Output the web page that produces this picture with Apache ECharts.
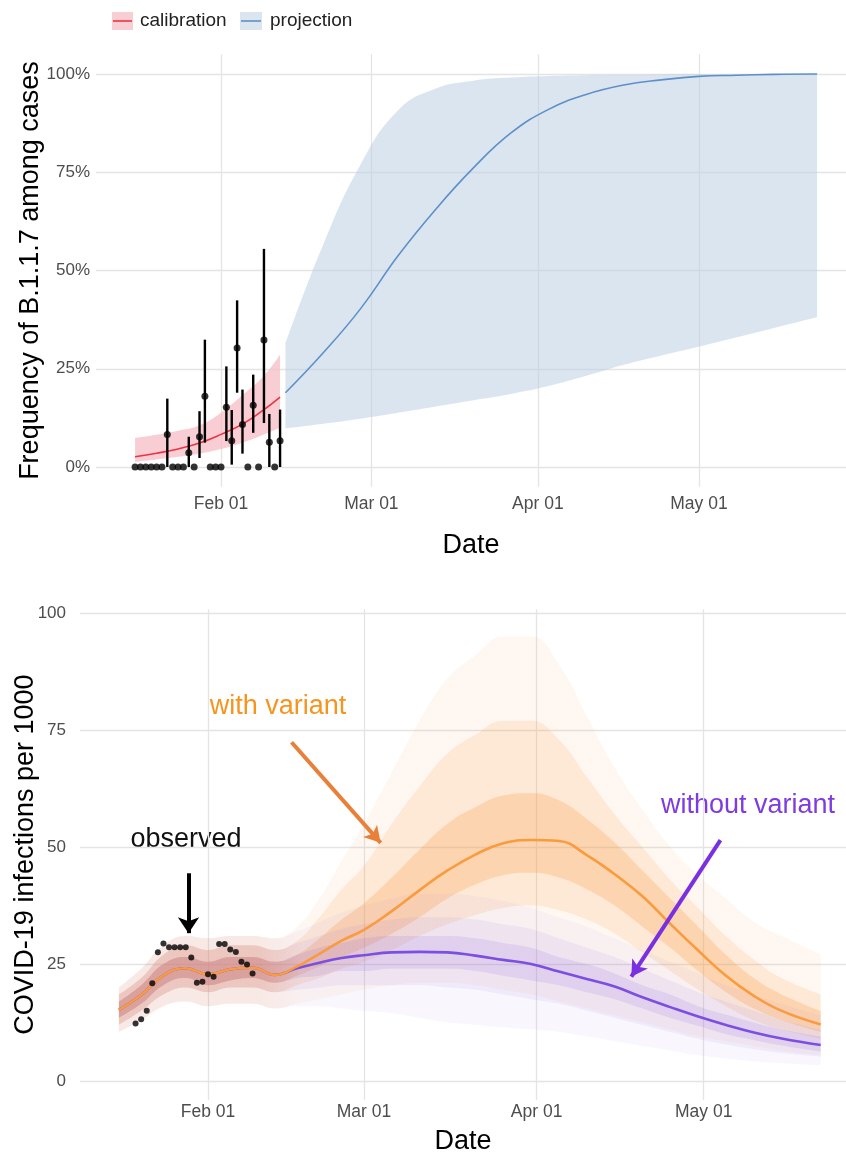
<!DOCTYPE html>
<html><head><meta charset="utf-8">
<script src="https://cdn.jsdelivr.net/npm/echarts@6/dist/echarts.min.js"></script>
<style>html,body{margin:0;padding:0;background:#fff}#c{width:846px;height:1154px}</style>
</head><body><div id="c"></div>
<script>
// ---------- tick labels ----------
const tickDates = ['2021-02-01','2021-03-01','2021-04-01','2021-05-01'];
const tickLabels = ['Feb 01','Mar 01','Apr 01','May 01'];
const pctTicks = [0,25,50,75,100];
const infTicks = [0,25,50,75,100];

// ---------- top panel: observed frequency of B.1.1.7 (%) ----------
const obsDates = ['2021-01-16','2021-01-17','2021-01-18','2021-01-19','2021-01-20','2021-01-21','2021-01-22','2021-01-23','2021-01-24','2021-01-25','2021-01-26','2021-01-27','2021-01-28','2021-01-29','2021-01-30','2021-01-31','2021-02-01','2021-02-02','2021-02-03','2021-02-04','2021-02-05','2021-02-06','2021-02-07','2021-02-08','2021-02-09','2021-02-10','2021-02-11','2021-02-12'];
const obsFreq = [0,0,0,0,0,0,8.3,0,0,0,3.6,0,7.7,18.0,0,0,0,15.2,6.7,30.3,10.8,0,15.7,0,32.3,6.3,0,6.7];
const obsLow  = [0,0,0,0,0,0,0,0,0,0,0,0,2.3,6.2,0,0,0,6.6,0.6,18.9,3.4,0,8.7,0,11.2,0,0,0];
const obsHigh = [0,0,0,0,0,0,17.4,0,0,0,7.7,0,14.2,32.4,0,0,0,25.6,14.5,42.4,19.7,0,23.5,0,55.5,13.5,0,14.6];

// calibration fit
const calDates = ['2021-01-16','2021-01-20','2021-01-24','2021-01-28','2021-02-01','2021-02-05','2021-02-09','2021-02-12'];
const calMid  = [2.6,3.5,4.6,6.1,8.3,10.9,14.6,17.8];
const calLow  = [1.3,1.9,2.6,3.4,4.6,6.2,8.3,10.0];
const calHigh = [7.4,8.2,9.2,10.6,13.8,18.3,23.2,28.6];

// projection
const projDates = ['2021-02-13','2021-02-20','2021-02-27','2021-03-06','2021-03-13','2021-03-20','2021-03-27','2021-04-03','2021-04-10','2021-04-17','2021-04-24','2021-05-01','2021-05-08','2021-05-15','2021-05-23'];
const projMid  = [18.9,29.0,40.3,53.8,65.6,76.1,85.0,91.0,94.8,97.2,98.5,99.4,99.7,99.9,100];
const projLow  = [9.8,11.0,12.3,13.8,15.4,17.0,18.6,20.6,23.2,26.0,28.4,30.6,33.0,35.4,38.1];
const projHigh = [31.4,56.5,77.0,90.8,96.3,98.3,99.1,99.5,99.7,99.8,99.9,100,100,100,100];

// ---------- bottom panel: infections per 1000 ----------
const infDates = ['2021-01-16','2021-01-20','2021-01-24','2021-01-28','2021-02-01','2021-02-05','2021-02-09','2021-02-13','2021-02-17','2021-02-21','2021-02-25','2021-03-01','2021-03-06','2021-03-11','2021-03-16','2021-03-21','2021-03-26','2021-03-31','2021-04-05','2021-04-10','2021-04-15','2021-04-20','2021-04-25','2021-04-30','2021-05-05','2021-05-10','2021-05-15','2021-05-22'];
const withMid    = [15.2,18.4,22.6,24.1,22.8,23.9,24.2,22.7,24.5,27.2,30.0,32.3,36.3,40.8,45.0,48.4,50.8,51.5,51.3,48.3,44.2,39.5,33.6,27.9,22.5,18.2,15.0,12.1];
const withMax    = [20,24,29,31,30.5,31,31,30.5,33,39,47,55,66,77,86,91,95,95,89,78,67,58,50,44,39,34,31,27];
const withMin    = [10.5,13,16,17,16,16.5,16.5,15.5,16.5,17.5,18.5,19.5,20.5,21,21,20.5,19.5,18.5,17,15.5,14,12.5,11,9.5,8.5,7.5,6.5,5.5];
const withQ90    = [18.5,22,27,29,28,29,29,28,30,35,41,46,55,63,70,74,77,77,73,65,57,50,43,37,31,26,22,18.5];
const withQ10    = [12,15,18.5,20,19,20,20,19,20.5,22,24,25.5,28,31,33.5,35.5,37,37.5,36.5,34.5,31.5,27.5,23.5,19.5,16,13,11,9];
const withQ75    = [17,20.5,25,26.5,25.5,26.5,26.5,25.5,27,30.5,34.5,38,43.5,49.5,55,58.5,61,61.5,60,56,51,45,39,33,27,22,18.5,15];
const withQ25    = [13.5,16.5,20.5,22,20.5,21.5,22,21,22.5,24.5,26.5,28.5,31.5,35,39,42,44,44.5,43.5,41,37.5,33,28.5,23.5,19,15.5,13,10.5];

const withoutMid = [15.2,18.4,22.6,24.1,22.8,23.9,24.2,22.7,24.1,25.3,26.3,26.9,27.5,27.6,27.5,26.8,25.9,25.0,23.4,21.8,20.2,17.9,15.8,13.8,12.0,10.4,9.1,7.7];
const withoutMax = [20,24,29,31,30.5,31,31,30.5,32,34,36,37.5,39,40,40,39.5,38.5,37,35,33,30.5,28,25.5,23,20.5,18.5,16.5,14];
const withoutMin = [10.5,13,16,17,16,16.5,16.5,15.5,16,16,15.5,15,14.5,13.5,12.5,12,11.5,11,10.5,9.5,8.5,7.5,6.5,5.5,4.8,4.2,3.8,3.3];
const withoutQ90 = [18.5,22,27,29,28,29,29,28,29.5,31,32.5,33.5,34.5,35,35,34.5,33.5,32.5,30.5,28.5,26.5,24,21.5,19,17,15,13,11];
const withoutQ10 = [12,15,18.5,20,19,20,20,19,19.5,20,20.5,20.5,20.5,20.5,20,19.5,18.5,17.5,16.5,15,13.5,12,10.5,9,7.8,6.8,6,5.2];
const withoutQ75 = [17,20.5,25,26.5,25.5,26.5,26.5,25.5,27,28.5,29.5,30.5,31,31,31,30.5,29.5,28.5,26.5,25,23,20.5,18.5,16,14.2,12.5,11,9.5];
const withoutQ25 = [13.5,16.5,20.5,22,20.5,21.5,22,21,22,22.5,23.5,23.5,24,24,24,23.5,22.5,21.5,20.5,19,17.5,15.5,13.5,11.8,10,8.8,7.6,6.3];

// observed infections
const casesDates = ['2021-01-19','2021-01-20','2021-01-21','2021-01-22','2021-01-23','2021-01-24','2021-01-25','2021-01-26','2021-01-27','2021-01-28','2021-01-29','2021-01-30','2021-01-31','2021-02-01','2021-02-02','2021-02-03','2021-02-04','2021-02-05','2021-02-06','2021-02-07','2021-02-08','2021-02-09'];
const casesObs = [12.3,13.2,15.0,20.9,27.5,29.4,28.6,28.6,28.6,28.6,26.4,21.0,21.2,22.8,22.3,29.3,29.3,28.1,27.6,25.5,24.9,23.0];

// annotation arrows [date, value]
const arrowWith    = [['2021-02-16', 72.4], ['2021-03-04', 50.9]];
const arrowWithout = [['2021-05-04', 51.5], ['2021-04-18', 22.3]];
const arrowObs     = [['2021-01-28T12', 44.4], ['2021-01-28T12', 31.6]];

// ---------- helpers ----------
const DAY = 86400000;
function ts(s) {
  const parts = s.split('T');
  const [y, m, d] = parts[0].split('-').map(Number);
  const h = parts[1] ? Number(parts[1]) : 0;
  return new Date(y, m - 1, d, h).getTime();
}
const pairs = (dates, vals) => dates.map((d, i) => [ts(d), vals[i]]);
const diffs = (dates, lo, hi) => dates.map((d, i) => [ts(d), +(hi[i] - lo[i]).toFixed(4)]);
const tickTs = tickDates.map(ts);
const FONT = "'Liberation Sans', Arial, Helvetica, sans-serif";
const GRID = '#E4E4E4';
const FEB1 = ts('2021-02-01');
const SMOOTH = 0.45;

function band(name, dates, lo, hi, color, gi) {
  const common = { xAxisIndex: gi, yAxisIndex: gi, stack: name, symbol: 'none', smooth: SMOOTH,
    lineStyle: { opacity: 0, width: 0 }, silent: true, z: 2 };
  return [
    Object.assign({ type: 'line', name: name + '_lo', data: pairs(dates, lo) }, common),
    Object.assign({ type: 'line', name: name + '_hi', data: diffs(dates, lo, hi), areaStyle: { color: color, opacity: 1 } }, common)
  ];
}
// horizontal fade: stronger where both scenarios overlap (calibration period)
function fade(rgb, a1, a2, stop) {
  return new echarts.graphic.LinearGradient(0, 0, 1, 0, [
    { offset: 0, color: 'rgba(' + rgb + ',' + a1 + ')' },
    { offset: stop, color: 'rgba(' + rgb + ',' + a1 + ')' },
    { offset: stop + 0.06, color: 'rgba(' + rgb + ',' + a2 + ')' },
    { offset: 1, color: 'rgba(' + rgb + ',' + a2 + ')' }
  ]);
}

function xDataAxis(gi, minDays, maxDays) {
  return { type: 'time', gridIndex: gi, min: FEB1 + minDays * DAY, max: FEB1 + maxDays * DAY, show: false,
    position: 'top', axisLine: { show: false, onZero: false }, splitLine: { show: false } };
}
function xShowAxis(gi, minDays, maxDays, margin, nameGap) {
  return {
    type: 'value', gridIndex: gi, min: FEB1 + minDays * DAY, max: FEB1 + maxDays * DAY, position: 'bottom',
    axisLine: { show: false, onZero: false }, axisTick: { show: false, customValues: tickTs },
    axisLabel: { customValues: tickTs, margin: margin, color: '#4D4D4D', fontSize: 17.5, fontFamily: FONT,
      formatter: v => { const k = tickTs.indexOf(v); return k >= 0 ? tickLabels[k] : ''; } },
    splitLine: { show: true, lineStyle: { color: GRID, width: 1.3 } },
    name: 'Date', nameLocation: 'middle', nameGap: nameGap, nameMoveOverlap: false,
    nameTextStyle: { color: '#000', fontSize: 27, fontFamily: FONT }
  };
}
function yAxisCfg(gi, min, max, ticks, fmt, name, nameGap, margin) {
  return {
    type: 'value', gridIndex: gi, min: min, max: max,
    axisLine: { show: false, onZero: false }, axisTick: { show: false, customValues: ticks },
    axisLabel: { customValues: ticks, formatter: fmt, color: '#4D4D4D', fontSize: 17, fontFamily: FONT, margin: margin },
    splitLine: { show: true, lineStyle: { color: GRID, width: 1.3 } },
    name: name, nameLocation: 'middle', nameGap: nameGap, nameRotate: 90, nameMoveOverlap: false,
    nameTextStyle: { color: '#000', fontSize: 27, fontFamily: FONT }
  };
}

const OR = '249,150,60';
const PU = '140,100,225';
const arrowLine = (pts) => [[{ coord: [ts(pts[0][0]), pts[0][1]] }, { coord: [ts(pts[1][0]), pts[1][1]] }]];
const STOP = 0.2;

const series = [
  // top panel
  ...band('cal', calDates, calLow, calHigh, 'rgba(246,190,198,0.75)', 0),
  ...band('proj', projDates, projLow, projHigh, 'rgba(190,208,228,0.55)', 0),
  { type: 'line', xAxisIndex: 0, yAxisIndex: 0, data: pairs(calDates, calMid), smooth: SMOOTH, symbol: 'none',
    lineStyle: { color: '#EE3340', width: 1.6 }, silent: true, z: 3 },
  { type: 'line', xAxisIndex: 0, yAxisIndex: 0, data: pairs(projDates, projMid), smooth: SMOOTH, symbol: 'none',
    lineStyle: { color: '#5E90C8', width: 1.6 }, silent: true, z: 3 },
  { type: 'custom', xAxisIndex: 0, yAxisIndex: 0, silent: true, z: 4,
    data: obsDates.map((d, i) => [ts(d), obsLow[i], obsHigh[i]]),
    encode: { x: 0, y: [1, 2] },
    renderItem: (params, api) => {
      const a = api.coord([api.value(0), api.value(1)]);
      const b = api.coord([api.value(0), api.value(2)]);
      return { type: 'line', shape: { x1: a[0], y1: a[1], x2: b[0], y2: b[1] }, style: { stroke: '#000', lineWidth: 2.4 } };
    } },
  { type: 'scatter', xAxisIndex: 0, yAxisIndex: 0, data: pairs(obsDates, obsFreq), symbolSize: 7,
    itemStyle: { color: '#000' }, silent: true, z: 5 },

  // bottom panel
  ...band('wOut', infDates, withMin, withMax, fade(OR, 0.13, 0.07, STOP), 1),
  ...band('wMid', infDates, withQ10, withQ90, fade(OR, 0.26, 0.15, STOP), 1),
  ...band('wIn', infDates, withQ25, withQ75, fade(OR, 0.45, 0.25, STOP), 1),
  ...band('nOut', infDates, withoutMin, withoutMax, fade(PU, 0.06, 0.05, STOP), 1),
  ...band('nMid', infDates, withoutQ10, withoutQ90, fade(PU, 0.10, 0.09, STOP), 1),
  ...band('nIn', infDates, withoutQ25, withoutQ75, fade(PU, 0.17, 0.15, STOP), 1),
  { type: 'line', xAxisIndex: 1, yAxisIndex: 1, data: pairs(infDates, withoutMid), smooth: SMOOTH, symbol: 'none',
    lineStyle: { color: '#7C4FE0', width: 2.6 }, silent: true, z: 3,
    markLine: { silent: true, symbol: ['none', 'arrow'], symbolSize: [14, 16], label: { show: false },
      lineStyle: { color: '#7A2FE0', width: 4, type: 'solid' }, data: arrowLine(arrowWithout) } },
  { type: 'line', xAxisIndex: 1, yAxisIndex: 1, data: pairs(infDates, withMid), smooth: SMOOTH, symbol: 'none',
    lineStyle: { color: '#F99B3E', width: 2.6 }, silent: true, z: 3,
    markLine: { silent: true, symbol: ['none', 'arrow'], symbolSize: [14, 16], label: { show: false },
      lineStyle: { color: '#E8803A', width: 4, type: 'solid' }, data: arrowLine(arrowWith) } },
  { type: 'scatter', xAxisIndex: 1, yAxisIndex: 1, data: pairs(casesDates, casesObs), symbolSize: 6,
    itemStyle: { color: '#000' }, silent: true, z: 5,
    markLine: { silent: true, symbol: ['none', 'arrow'], symbolSize: [16, 16], label: { show: false },
      lineStyle: { color: '#000', width: 4, type: 'solid' }, data: arrowLine(arrowObs) } }
];

const chart = echarts.init(document.getElementById('c'), null, { renderer: 'canvas' });
chart.setOption({
  animation: false,
  backgroundColor: '#fff',
  grid: [
    { left: 96, right: 0, top: 54.35, height: 432.3, outerBoundsMode: 'none', containLabel: false },
    { left: 80, right: 0, top: 609.3, height: 490.5, outerBoundsMode: 'none', containLabel: false }
  ],
  xAxis: [
    xDataAxis(0, (96 - 221) / 5.37, (846 - 221) / 5.37),
    xDataAxis(1, (80 - 208) / 5.57, (846 - 208) / 5.57),
    xShowAxis(0, (96 - 221) / 5.37, (846 - 221) / 5.37, 9, 45),
    xShowAxis(1, (80 - 208) / 5.57, (846 - 208) / 5.57, 3, 28)
  ],
  yAxis: [
    yAxisCfg(0, -5, 105, pctTicks, v => v + '%', 'Frequency of B.1.1.7 among cases', 52, 6),
    yAxisCfg(1, -4, 100.8, infTicks, v => String(v), 'COVID-19 infections per 1000', 41, 14)
  ],
  series: series,
  graphic: [
    { type: 'rect', shape: { x: 112, y: 12, width: 21, height: 18 }, style: { fill: 'rgba(246,190,198,0.75)' } },
    { type: 'line', shape: { x1: 113, y1: 21, x2: 132, y2: 21 }, style: { stroke: '#EE3340', lineWidth: 1.6 } },
    { type: 'text', x: 140, y: 21, style: { text: 'calibration', fill: '#222', font: '19px ' + FONT, textVerticalAlign: 'middle' } },
    { type: 'rect', shape: { x: 240, y: 12, width: 22, height: 18 }, style: { fill: 'rgba(190,208,228,0.55)' } },
    { type: 'line', shape: { x1: 241, y1: 21, x2: 261, y2: 21 }, style: { stroke: '#5E90C8', lineWidth: 1.6 } },
    { type: 'text', x: 270, y: 21, style: { text: 'projection', fill: '#222', font: '19px ' + FONT, textVerticalAlign: 'middle' } },
    { type: 'text', x: 278, y: 707, style: { text: 'with variant', fill: '#F7941E', font: '27px ' + FONT, textAlign: 'center', textVerticalAlign: 'middle' } },
    { type: 'text', x: 748, y: 806, style: { text: 'without variant', fill: '#7E3BDF', font: '27px ' + FONT, textAlign: 'center', textVerticalAlign: 'middle' } },
    { type: 'text', x: 186, y: 840, style: { text: 'observed', fill: '#111', font: '27px ' + FONT, textAlign: 'center', textVerticalAlign: 'middle' } }
  ]
});
</script>
</body></html>
